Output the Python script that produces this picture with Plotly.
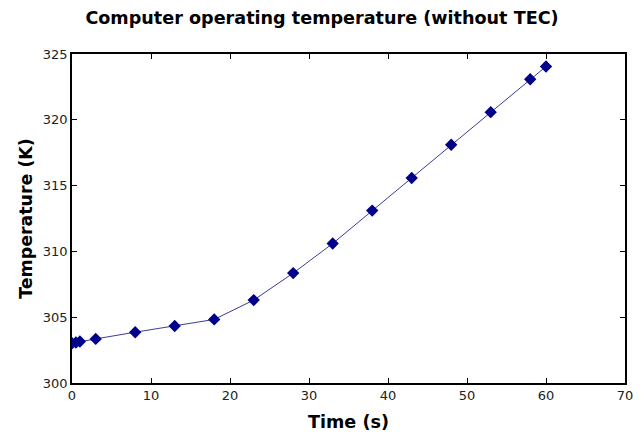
import plotly.graph_objects as go

time_s = [0, 0.5, 1, 3, 8, 13, 18, 23, 28, 33, 38, 43, 48, 53, 58, 60]
temperature_k = [303.02, 303.08, 303.15, 303.35, 303.86, 304.33, 304.83, 306.3, 308.35,
                 310.6, 313.1, 315.58, 318.1, 320.58, 323.08, 324.05]
x_ticks = [0, 10, 20, 30, 40, 50, 60, 70]
y_ticks = [300, 305, 310, 315, 320, 325]

W, H = 634, 425

fig = go.Figure()
fig.add_trace(go.Scatter(
    x=time_s, y=temperature_k, mode="lines+markers",
    line=dict(color="rgb(60,60,150)", width=1),
    marker=dict(symbol="diamond", size=9.5, color="#00008B", line=dict(width=0)),
    showlegend=False,
))

axis_common = dict(
    showline=True, linecolor="black", linewidth=1.5, mirror="allticks",
    ticks="inside", ticklen=5, tickwidth=1, tickcolor="black",
    showgrid=False, zeroline=False, automargin=False,
    tickfont=dict(family="DejaVu Sans", size=13, color="#222"),
)

fig.update_layout(
    width=W, height=H,
    margin=dict(l=64, r=17, t=46, b=50),
    paper_bgcolor="white", plot_bgcolor="white",
    title=dict(text="<b>Computer operating temperature (without TEC)</b>",
               x=314 / W, xanchor="center", y=1 - 10 / H, yanchor="middle",
               font=dict(family="DejaVu Sans", size=17.6, color="black")),
    xaxis=dict(range=[0, 70], tickvals=x_ticks,
               title=dict(text="<b>Time (s)</b>", standoff=13,
                          font=dict(family="DejaVu Sans", size=17.6, color="black")),
               **axis_common),
    yaxis=dict(range=[300, 325], tickvals=y_ticks,
               title=dict(text="<b>Temperature (K)</b>", standoff=6,
                          font=dict(family="DejaVu Sans", size=17.4, color="black")),
               **axis_common),
)

fig.write_html("out.html")
